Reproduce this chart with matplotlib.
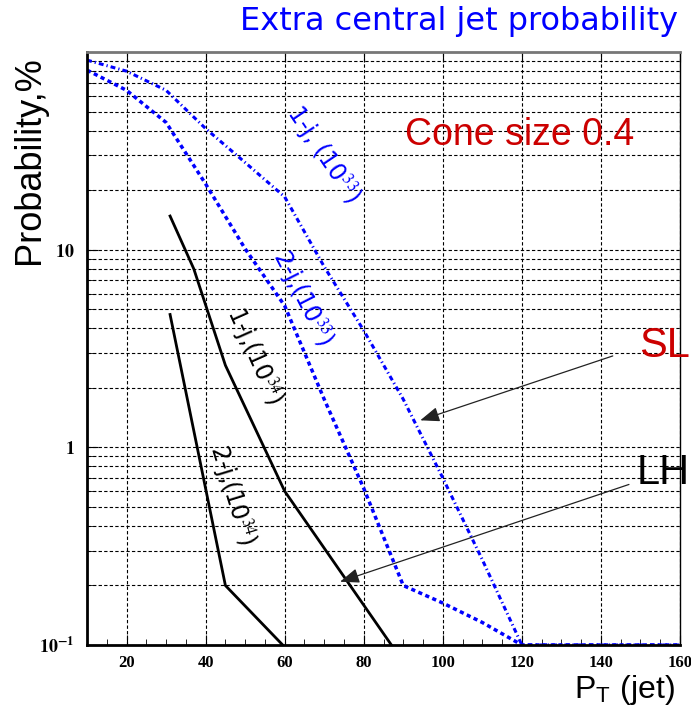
import matplotlib.pyplot as plt
import numpy as np
from matplotlib.ticker import MultipleLocator, NullFormatter, FixedLocator

plt.rcParams['mathtext.fontset'] = 'stix'

# jet probability curves (PT in GeV, probability in %)
pt_1j33 = [10, 20, 30, 40, 50, 60, 70, 80, 90, 100, 110, 120, 160]
p_1j33 = [91, 80, 64, 41, 27.6, 18.5, 8.2, 3.9, 1.75, 0.70, 0.27, 0.1, 0.1]
pt_2j33 = [10, 20, 30, 40, 50, 60, 70, 80, 90, 100, 110, 120, 160]
p_2j33 = [81, 64, 44, 21.5, 10.1, 5.2, 1.75, 0.62, 0.2, 0.163, 0.13, 0.1, 0.1]
pt_1j34 = [31, 37, 45, 60, 87]
p_1j34 = [14.8, 8.0, 2.6, 0.6, 0.1]
pt_2j34 = [31, 45, 59.5]
p_2j34 = [4.7, 0.2, 0.1]

xticks = [20, 40, 60, 80, 100, 120, 140, 160]
yticks = [0.1, 1, 10]
ylabels = [r'$\mathbf{10^{-1}}$', r'$\mathbf{1}$', r'$\mathbf{10}$']

fig = plt.figure(figsize=(6.91, 7.07), dpi=100)
ax = fig.add_axes([0.126, 0.0877, 0.858, 0.8387])

blue = '#0000ff'
ax.plot(pt_1j33, p_1j33, color=blue, lw=2.2, ls=(0, (1.6, 1.0, 0.4, 1.0)))
ax.plot(pt_2j33, p_2j33, color=blue, lw=2.5, ls=(0, (1.2, 1.0)))
ax.plot(pt_1j34, p_1j34, color='black', lw=2.0)
ax.plot(pt_2j34, p_2j34, color='black', lw=2.0)

ax.set_yscale('log')
ax.set_xlim(10, 160)
ax.set_ylim(0.1, 100)

ax.xaxis.set_major_locator(FixedLocator(xticks))
ax.xaxis.set_minor_locator(MultipleLocator(5))
ax.set_xticklabels([str(t) for t in xticks], fontfamily='Liberation Serif',
                   fontweight='bold', fontsize=12)
ax.yaxis.set_major_locator(FixedLocator(yticks))
ax.set_yticklabels(ylabels, fontsize=13)
ax.yaxis.set_minor_formatter(NullFormatter())
ax.tick_params(axis='x', which='major', direction='in', length=7, top=True, pad=7)
ax.tick_params(axis='x', which='minor', direction='in', length=4)
ax.tick_params(axis='y', which='major', direction='in', length=8, pad=9)
ax.tick_params(axis='y', which='minor', direction='in', length=4)

grid_kw = dict(color='black', lw=0.8, ls=(0, (3, 2)))
ax.grid(True, which='major', axis='x', **grid_kw)
ax.grid(True, which='both', axis='y', **grid_kw)

for s in ['left', 'bottom']:
    ax.spines[s].set_linewidth(2)
ax.spines['top'].set_color('#777777')
ax.spines['top'].set_linewidth(2)
ax.spines['right'].set_linewidth(1)

# curve labels along the lines
ax.text(69.7, 30.3, r'1-j, (10$^{33}$)', color=blue, fontsize=17, rotation=-56,
        rotation_mode='anchor', ha='center', va='center')
ax.text(64.4, 5.7, r'2-j,(10$^{33}$)', color=blue, fontsize=17, rotation=-63,
        rotation_mode='anchor', ha='center', va='center')
ax.text(52.2, 2.9, r'1-j,(10$^{34}$)', color='black', fontsize=17, rotation=-66,
        rotation_mode='anchor', ha='center', va='center')
ax.text(46.6, 0.57, r'2-j,(10$^{34}$)', color='black', fontsize=17, rotation=-73,
        rotation_mode='anchor', ha='center', va='center')

arrow = dict(arrowstyle='-|>,head_length=0.65,head_width=0.25', color='#222222',
             lw=0.9, mutation_scale=18, shrinkA=0, shrinkB=0)
ax.annotate('', xy=(94.3, 1.37), xytext=(143.0, 2.9), arrowprops=arrow)
ax.annotate('', xy=(74.0, 0.209), xytext=(147.1, 0.649), arrowprops=arrow)

fig.text(0.998, 0.511, 'SL', color='#cc0000', fontsize=30,
         family='Liberation Sans', ha='right', va='center')
fig.text(0.998, 0.331, 'LH', color='black', fontsize=30,
         family='Liberation Sans', ha='right', va='center')
fig.text(405 / 691, 1 - 135 / 707, 'Cone size 0.4', color='#cc0000', fontsize=27,
         family='Liberation Sans', ha='left', va='center')

fig.text(0.981, 0.969, 'Extra central jet probability', color=blue, fontsize=23,
         ha='right', va='center')
fig.text(30 / 691, 0.774, 'Probability,%', rotation=90, fontsize=26,
         family='Liberation Sans', ha='center', va='center')
fig.text(675 / 691, 0.024, r'P$_{\mathregular{T}}$ (jet)', fontsize=23,
         family='Liberation Sans', ha='right', va='center')

fig.savefig('out.png', dpi=100)
